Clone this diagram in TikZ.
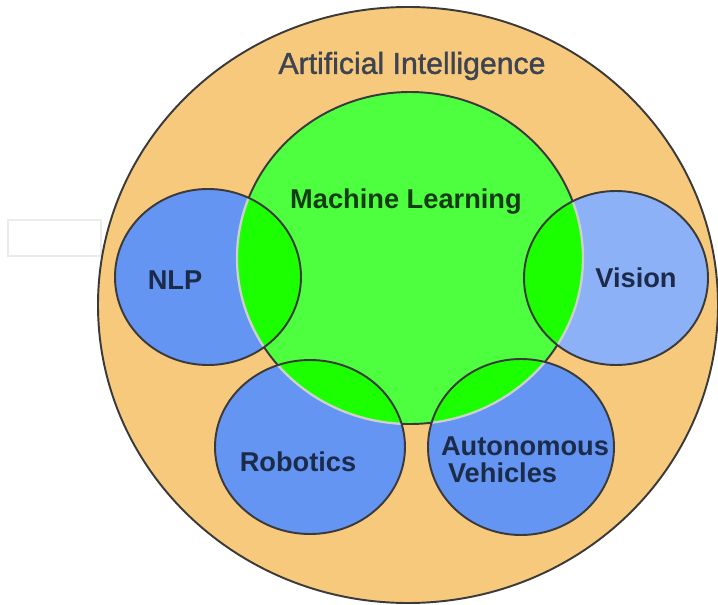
\documentclass[tikz,border=0pt]{standalone}
\usepackage{fontspec}
\setmainfont{Liberation Sans}
\newfontfamily\aifont[FakeBold=1.3]{Liberation Sans}
\definecolor{aiorange}{HTML}{F7C97C}
\definecolor{mlgreen}{HTML}{4EFF40}
\definecolor{overlap}{HTML}{1BFF00}
\definecolor{nlpblue}{HTML}{6495F2}
\definecolor{visblue}{HTML}{8CB1F6}
\definecolor{rimgray}{HTML}{3A3A3A}
\definecolor{arcgray}{HTML}{CFCFCF}
\definecolor{boxgray}{HTML}{EBEBEB}
\definecolor{navy}{HTML}{1C2B4A}
\definecolor{mltext}{HTML}{143C14}
\definecolor{aitext}{HTML}{3D4350}

\begin{document}
\begin{tikzpicture}
  [x=0.02cm,y=-0.02cm,
   rim/.style={draw=rimgray,line width=1.1pt},
   lbl/.style={font=\bfseries\fontsize{15.5}{15.5}\selectfont,text=navy,inner sep=0pt}]

  \useasboundingbox (0,0) rectangle (718,605);

  % empty box on the left
  \draw[boxgray,line width=0.7pt] (8,220) rectangle (101,256);

  % outer sets
  \draw[rim,fill=aiorange] (408,305) ellipse [x radius=310,y radius=298];
  \draw[rim,fill=mlgreen] (410,258) ellipse [x radius=173,y radius=166];

  % sub-fields and their overlap with ML
  \foreach \cx/\cy/\rx/\ry/\col in {208/277/93/88/nlpblue, 616/278/92/87/visblue,
                                    310/447/95/87/nlpblue, 521/447/93/88/nlpblue}{
    \fill[\col] (\cx,\cy) ellipse [x radius=\rx,y radius=\ry];
    \begin{scope}
      \clip (410,258) ellipse [x radius=173,y radius=166];
      \fill[overlap] (\cx,\cy) ellipse [x radius=\rx,y radius=\ry];
    \end{scope}
    \begin{scope}
      \clip (\cx,\cy) ellipse [x radius=\rx,y radius=\ry];
      \draw[arcgray,line width=1.3pt] (410,258) ellipse [x radius=173,y radius=166];
    \end{scope}
    \draw[rim] (\cx,\cy) ellipse [x radius=\rx,y radius=\ry];
  }

  \node[font=\aifont\fontsize{17.2}{17.2}\selectfont,text=aitext,inner sep=0pt] (ai) at (412,66) {Artificial Intelligence};
  \node[lbl,text=mltext] (ml) at (406,202) {Machine Learning};
  \node[lbl] (nlp) at (175,280) {NLP};
  \node[lbl] (vision) at (636,278) {Vision};
  \node[lbl] (robotics) at (298,462) {Robotics};
  \node[lbl,align=left] (av) at (525,460) {Autonomous\\\hspace*{4pt}Vehicles};

\end{tikzpicture}
\end{document}
